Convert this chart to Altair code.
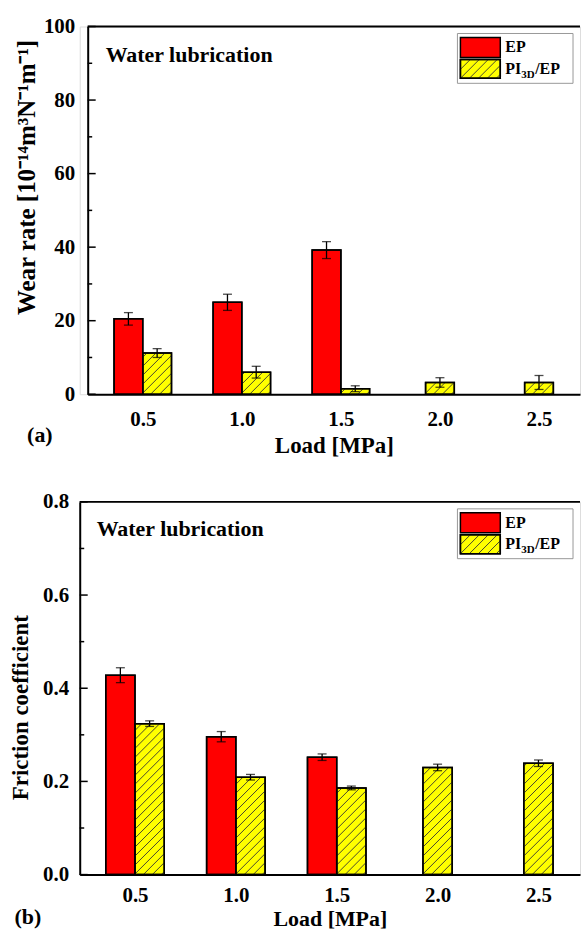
import altair as alt
import pandas as pd

# ---------------- data ----------------
loads = [0.5, 1.0, 1.5, 2.0, 2.5]

wear_ep = [20.5, 25.0, 39.2, None, None]
wear_ep_err = [1.7, 2.2, 2.3, None, None]
wear_pi = [11.2, 6.0, 1.5, 3.2, 3.2]
wear_pi_err = [1.2, 1.6, 0.8, 1.3, 1.9]

fric_ep = [0.428, 0.296, 0.252, None, None]
fric_ep_err = [0.016, 0.011, 0.007, None, None]
fric_pi = [0.324, 0.209, 0.186, 0.230, 0.239]
fric_pi_err = [0.006, 0.006, 0.004, 0.007, 0.007]

wear_ticks = [0, 20, 40, 60, 80, 100]
wear_minor = [10, 30, 50, 70, 90]
fric_ticks = [0.0, 0.2, 0.4, 0.6, 0.8]
fric_minor = [0.1, 0.3, 0.5, 0.7]

# ---------------- style ----------------
FONT = "Liberation Serif"
RED = "#ff0000"
YELLOW = "#ffff00"
HATCH = "#333333"
BAR_W = 0.145
PERIOD = 9.0
WIDTH = 502


def build_bars(ep, ep_err, pi, pi_err):
    rows = []
    for i, L in enumerate(loads):
        if ep[i] is not None:
            rows.append({"series": "EP", "x0": L - BAR_W, "x1": L, "xc": L - BAR_W / 2,
                         "v": ep[i], "lo": ep[i] - ep_err[i], "hi": ep[i] + ep_err[i], "base": 0.0})
            px0 = L
        else:
            px0 = L - BAR_W / 2
        rows.append({"series": "PI", "x0": px0, "x1": px0 + BAR_W, "xc": px0 + BAR_W / 2,
                     "v": pi[i], "lo": pi[i] - pi_err[i], "hi": pi[i] + pi_err[i], "base": 0.0})
    return pd.DataFrame(rows)


def hatch_uv(w, h, start=3.0):
    """diagonal '/' segments inside a w x h box, (u right, v up) in pixels"""
    segs = []
    c = -w + start
    while c < h:
        u1 = max(0.0, -c)
        u2 = min(w, h - c)
        if u2 - u1 > 0.6:
            segs.append((u1, u1 + c, u2, u2 + c))
        c += PERIOD
    return segs


def build_hatch(bars, xdom, xrange_px, height, ymax):
    pxx = (xrange_px[1] - xrange_px[0]) / (xdom[1] - xdom[0])
    pxy = height / ymax
    rows = []
    for r in bars[bars.series == "PI"].itertuples():
        w = (r.x1 - r.x0) * pxx
        h = r.v * pxy
        for (u1, v1, u2, v2) in hatch_uv(w, h):
            rows.append({"xa": r.x0 + u1 / pxx, "ya": v1 / pxy,
                         "xb": r.x0 + u2 / pxx, "yb": v2 / pxy})
    return pd.DataFrame(rows)


def legend_layers(width):
    bx0, bx1 = width - 123, width - 7
    sx0, sx1 = width - 120, width - 80
    by0, by1 = 7, 57
    r0, r1 = 11, 31
    y0, y1 = 33, 52
    one = pd.DataFrame({"a": [0]})
    box = alt.Chart(one).mark_rect(fill="white", stroke="#999999", strokeWidth=1).encode(
        x=alt.value(bx0), x2=alt.value(bx1), y=alt.value(by0), y2=alt.value(by1))
    sw_red = alt.Chart(one).mark_rect(fill=RED, stroke="black", strokeWidth=1.5).encode(
        x=alt.value(sx0), x2=alt.value(sx1), y=alt.value(r0), y2=alt.value(r1))
    sw_yel = alt.Chart(one).mark_rect(fill=YELLOW, stroke="black", strokeWidth=1.5).encode(
        x=alt.value(sx0), x2=alt.value(sx1), y=alt.value(y0), y2=alt.value(y1))
    seg_layers = []
    for (u1, v1, u2, v2) in hatch_uv(sx1 - sx0, y1 - y0, start=4.0):
        seg_layers.append(alt.Chart(one).mark_rule(color=HATCH, strokeWidth=0.9).encode(
            x=alt.value(sx0 + u1), x2=alt.value(sx0 + u2),
            y=alt.value(y1 - v1), y2=alt.value(y1 - v2)))
    sw_out = alt.Chart(one).mark_rect(fillOpacity=0, stroke="black", strokeWidth=1.5).encode(
        x=alt.value(sx0), x2=alt.value(sx1), y=alt.value(y0), y2=alt.value(y1))
    tx = width - 75
    t_ep = alt.Chart(one).mark_text(text="EP", font=FONT, fontWeight="bold", fontSize=16,
                                    align="left", baseline="middle").encode(
        x=alt.value(tx), y=alt.value((r0 + r1) / 2))
    t_pi = alt.Chart(one).mark_text(text="PI", font=FONT, fontWeight="bold", fontSize=16,
                                    align="left", baseline="middle").encode(
        x=alt.value(tx), y=alt.value((y0 + y1) / 2))
    t_sub = alt.Chart(one).mark_text(text="3D", font=FONT, fontWeight="bold", fontSize=11,
                                     align="left", baseline="middle").encode(
        x=alt.value(tx + 16), y=alt.value((y0 + y1) / 2 + 6))
    t_ep2 = alt.Chart(one).mark_text(text="/EP", font=FONT, fontWeight="bold", fontSize=16,
                                     align="left", baseline="middle").encode(
        x=alt.value(tx + 30), y=alt.value((y0 + y1) / 2))
    return [box, sw_red, sw_yel] + seg_layers + [sw_out, t_ep, t_pi, t_sub, t_ep2]


def panel(ep, ep_err, pi, pi_err, ymax, ticks, minor, fmt, ytitle, height, tag,
          xdom, left, ylabpad, ytitlepad, ytitlesize, ytitley, xlabpad, xtitlepad, xtitlesize,
          note_xy, tag_xy):
    width = WIDTH
    xr = [left, width]
    bars = build_bars(ep, ep_err, pi, pi_err)
    hatch = build_hatch(bars, xdom, xr, height, ymax)
    xscale = alt.Scale(domain=xdom, range=xr, nice=False, zero=False)
    yscale = alt.Scale(domain=[0, ymax], nice=False, zero=False)
    x_axis = alt.Axis(values=loads, format=".1f", title="Load [MPa]", ticks=False, grid=False,
                      domainWidth=2, domainColor="black", labelFont=FONT, labelFontSize=21,
                      labelFontWeight="bold", labelColor="black", labelPadding=xlabpad,
                      titleFont=FONT, titleFontSize=xtitlesize, titleFontWeight="bold",
                      titleColor="black", titlePadding=xtitlepad)
    y_axis = alt.Axis(values=ticks, format=fmt, title=ytitle, ticks=False, grid=False,
                      offset=-left,
                      domainWidth=2, domainColor="black", labelFont=FONT, labelFontSize=21,
                      labelFontWeight="bold", labelColor="black", labelPadding=ylabpad,
                      titleFont=FONT, titleFontSize=ytitlesize, titleFontWeight="bold",
                      titleColor="black", titlePadding=ytitlepad, titleY=ytitley)

    def X(f):
        return alt.X(f, scale=xscale, axis=x_axis)

    def Y(f):
        return alt.Y(f, scale=yscale, axis=y_axis)

    base = alt.Chart(bars)
    fill = base.mark_rect(stroke="black", strokeWidth=1.5).encode(
        x=X("x0:Q"), x2="x1:Q", y=Y("v:Q"), y2="base:Q",
        fill=alt.Fill("series:N", scale=alt.Scale(domain=["EP", "PI"], range=[RED, YELLOW]),
                      legend=None))
    hatch_layer = alt.Chart(hatch).mark_rule(color=HATCH, strokeWidth=0.9).encode(
        x=X("xa:Q"), x2="xb:Q", y=Y("ya:Q"), y2="yb:Q")
    outline = base.mark_rect(fillOpacity=0, stroke="black", strokeWidth=1.5).encode(
        x=X("x0:Q"), x2="x1:Q", y=Y("v:Q"), y2="base:Q")
    err = base.mark_rule(color="black", strokeWidth=1.3).encode(
        x=X("xc:Q"), y=Y("lo:Q"), y2="hi:Q")
    cap_hi = base.mark_tick(color="black", orient="horizontal", size=9, thickness=1.3).encode(
        x=X("xc:Q"), y=Y("hi:Q"))
    cap_lo = base.mark_tick(color="black", orient="horizontal", size=9, thickness=1.3).encode(
        x=X("xc:Q"), y=Y("lo:Q"))
    major = alt.Chart(pd.DataFrame({"t": ticks})).mark_rule(color="black", strokeWidth=1.5).encode(
        y=Y("t:Q"), x=alt.value(left), x2=alt.value(left + 8))
    minor_l = alt.Chart(pd.DataFrame({"t": minor})).mark_rule(color="black", strokeWidth=1.5).encode(
        y=Y("t:Q"), x=alt.value(left), x2=alt.value(left + 4.5))
    one = pd.DataFrame({"a": [0]})
    top_line = alt.Chart(one).mark_rule(color="black", strokeWidth=2).encode(
        x=alt.value(left), x2=alt.value(width), y=alt.value(0))
    note = alt.Chart(one).mark_text(text="Water lubrication", font=FONT, fontWeight="bold",
                                    fontSize=22, align="left", baseline="middle").encode(
        x=alt.value(left + note_xy[0]), y=alt.value(note_xy[1]))
    tag_text = alt.Chart(one).mark_text(text=tag, font=FONT, fontWeight="bold", fontSize=22,
                                        align="center", baseline="middle").encode(
        x=alt.value(tag_xy[0]), y=alt.value(height + tag_xy[1]))
    layers = [fill, hatch_layer, outline, err, cap_hi, cap_lo, major, minor_l, top_line, note,
              tag_text] + legend_layers(width)
    return alt.layer(*layers).properties(width=width, height=height)


top = panel(wear_ep, wear_ep_err, wear_pi, wear_pi_err, 100, wear_ticks, wear_minor, "d",
            "Wear rate [10⁻¹⁴m³N⁻¹m⁻¹]", 369, "(a)", [0.222, 2.707], 8, 13, 4, 25, 151,
            14, 5, 23, (18, 29), (-40, 41))
bottom = panel(fric_ep, fric_ep_err, fric_pi, fric_pi_err, 0.8, fric_ticks, fric_minor, ".1f",
               "Friction coefficient", 374, "(b)", [0.226, 2.706], 0, 11, 10, 23, 206,
               10, 3, 22, (17, 27), (-52, 43))

chart = alt.vconcat(top, bottom, spacing=32).properties(
    padding={"left": 9, "top": 13, "right": 0, "bottom": 0}
).configure_view(stroke="transparent").configure(background="white")

chart.save("out.html", embed_options={"renderer": "svg", "actions": False})
